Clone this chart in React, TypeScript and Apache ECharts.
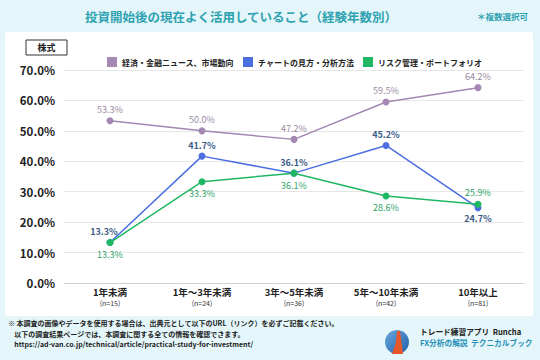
import React, { useEffect, useRef } from "react";
import * as echarts from "echarts";

const categories = ["1年未満\n{n|(n=15)}", "1年～3年未満\n{n|(n=24)}", "3年～5年未満\n{n|(n=36)}", "5年～10年未満\n{n|(n=42)}", "10年以上\n{n|(n=81)}"];
const seriesNames = ["経済・金融ニュース、市場動向", "チャートの見方・分析方法", "リスク管理・ポートフォリオ"];
const newsValues = [53.3, 50.0, 47.2, 59.5, 64.2];
const chartValues = [13.3, 41.7, 36.1, 45.2, 24.7];
const riskValues = [13.3, 33.3, 36.1, 28.6, 25.9];
const chartLabelPos = ["top", "top", "top", "top", "bottom"];
const riskLabelPos = ["bottom", "bottom", "bottom", "bottom", "top"];

const FONT = "'Noto Sans CJK JP', 'Noto Sans', sans-serif";

export default function App() {
  const ref = useRef<HTMLDivElement>(null);
  useEffect(() => {
    const chart = echarts.init(ref.current!, undefined, { renderer: "svg" });
    const fmt = (p: any) => p.value.toFixed(1) + "%";
    chart.setOption({
      animation: false,
      backgroundColor: "#e4f6f9",
      textStyle: { fontFamily: FONT },
      title: {
        text: "投資開始後の現在よく活用していること（経験年数別）",
        left: 236,
        textAlign: "center",
        top: 5,
        textStyle: { fontSize: 12.5, fontWeight: "bold", color: "#2ea2b1", fontFamily: FONT },
      },
      legend: {
        top: 52,
        left: 102,
        width: 430,
        itemWidth: 10,
        itemHeight: 10,
        itemGap: 9,
        icon: "rect",
        textStyle: { fontSize: 8, color: "#222", fontWeight: "bold", fontFamily: FONT },
        data: seriesNames,
      },
      grid: { left: 64, right: 16, top: 70, bottom: 77, containLabel: false },
      xAxis: {
        type: "category",
        data: categories,
        boundaryGap: true,
        axisLine: { lineStyle: { color: "#d0d0d0" } },
        axisTick: { show: false },
        axisLabel: {
          color: "#222",
          fontSize: 9.5,
          fontWeight: "bold",
          margin: 3,
          lineHeight: 12,
          rich: { n: { fontSize: 7, color: "#333", fontWeight: "normal", lineHeight: 10 } },
        },
      },
      yAxis: {
        type: "value",
        min: 0,
        max: 70,
        interval: 10,
        axisLabel: { formatter: (v: number) => v.toFixed(1) + "%", color: "#222", fontSize: 11.5, fontWeight: "bold", margin: 9 },
        splitLine: { lineStyle: { color: "#e6e6e6" } },
        axisLine: { show: false },
        axisTick: { show: false },
      },
      series: [
        {
          name: seriesNames[0],
          type: "line",
          data: newsValues,
          color: "#a487b3",
          symbol: "circle",
          symbolSize: 7,
          lineStyle: { width: 1.5 },
          label: { show: true, position: "top", distance: 3, formatter: fmt, fontSize: 9, color: "#9a8aa3" },
          z: 2,
        },
        {
          name: seriesNames[1],
          type: "line",
          data: chartValues.map((v, i) => ({
            value: v,
            label: { position: chartLabelPos[i], offset: i === 0 ? [-6, 0] : [0, 0] },
          })),
          color: "#4c6ee0",
          symbol: "circle",
          symbolSize: 7,
          lineStyle: { width: 1.5 },
          label: { show: true, distance: 3, formatter: fmt, fontSize: 9, color: "#3b5d86", fontWeight: "bold" },
          z: 3,
        },
        {
          name: seriesNames[2],
          type: "line",
          data: riskValues.map((v, i) => ({ value: v, label: { position: riskLabelPos[i] } })),
          color: "#1fb764",
          symbol: "circle",
          symbolSize: 7,
          lineStyle: { width: 1.5 },
          label: { show: true, distance: 4, formatter: fmt, fontSize: 9, color: "#2fa36a" },
          z: 4,
        },
      ],
      graphic: [
        { type: "rect", z: -10, shape: { x: 5, y: 32, width: 528, height: 284, r: 3 }, style: { fill: "#ffffff" } },
        {
          type: "text",
          right: 12,
          top: 12,
          style: { text: "＊複数選択可", fill: "#2ea2b1", font: "bold 8.5px " + FONT },
        },
        { type: "rect", shape: { x: 26, y: 40, width: 41, height: 15 }, style: { fill: "#fff", stroke: "#333", lineWidth: 1 } },
        { type: "text", x: 46.5, y: 47.5, style: { text: "株式", fill: "#222", font: "bold 9px " + FONT, align: "center", verticalAlign: "middle" } },
        {
          type: "text",
          x: 8,
          y: 318,
          style: {
            text: "※ 本調査の画像やデータを使用する場合は、出典元として以下のURL（リンク）を必ずご記載ください。\n    以下の調査結果ページでは、本調査に関する全ての情報を確認できます。\n    https://ad-van.co.jp/technical/article/practical-study-for-investment/",
            fill: "#222",
            font: "bold 7px " + FONT,
            lineHeight: 10.5,
          },
        },
        {
          type: "circle",
          shape: { cx: 397, cy: 342, r: 12 },
          style: {
            fill: new echarts.graphic.LinearGradient(0, 0, 1, 1, [
              { offset: 0, color: "#6aa8e0" },
              { offset: 1, color: "#1f5fa8" },
            ]),
          },
        },
        {
          type: "polygon",
          shape: { points: [[397, 331], [400, 331], [403, 354], [392, 354], [396, 342]] },
          style: { fill: "#e8572a" },
        },
        { type: "text", x: 420, y: 328, style: { text: "トレード練習アプリ  Runcha", fill: "#222", font: "bold 7.7px " + FONT } },
        { type: "text", x: 420, y: 339, style: { text: "FX分析の解説  テクニカルブック", fill: "#1f8fb8", font: "bold 7.7px " + FONT } },
      ],
    });
    return () => chart.dispose();
  }, []);
  return <div ref={ref} style={{ width: 540, height: 360, position: "absolute", left: 0, top: 0 }} />;
}
